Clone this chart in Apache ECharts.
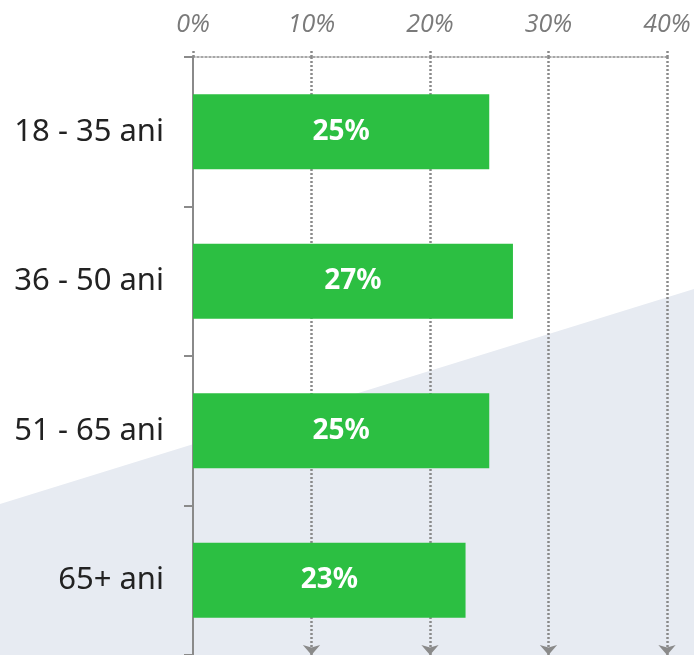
<!DOCTYPE html>
<html>
<head>
<meta charset="utf-8">
<script src="https://cdn.jsdelivr.net/npm/echarts@6/dist/echarts.min.js"></script>
<style>
html, body { margin: 0; padding: 0; background: #fff; }
#chart { width: 694px; height: 655px; }
</style>
</head>
<body>
<div id="chart"></div>
<script>
const categories = ['18 - 35 ani', '36 - 50 ani', '51 - 65 ani', '65+ ani'];
const values = [25, 27, 25, 23];
const gridTicks = [10, 20, 30, 40];

const chart = echarts.init(document.getElementById('chart'));
const option = {
    backgroundColor: '#fff',
    animation: false,
    graphic: [{
        type: 'polygon',
        z: -100,
        silent: true,
        shape: { points: [[0, 504], [694, 289], [694, 655], [0, 655]] },
        style: { fill: '#e7ebf2' }
    }],
    grid: { left: 193, top: 57, width: 474, height: 600 },
    xAxis: {
        type: 'value',
        position: 'top',
        min: 0,
        max: 40,
        interval: 10,
        axisLine: { show: true, lineStyle: { color: '#8a8a8a', width: 1.5, type: [2, 2] } },
        axisTick: { show: true, length: 7, lineStyle: { color: '#8a8a8a', width: 2.5, type: [2, 2] } },
        splitLine: { show: false },
        axisLabel: {
            formatter: '{value}%',
            color: '#7a7a7a',
            fontStyle: 'italic',
            fontSize: 25,
            fontFamily: 'Open Sans',
            margin: 20
        }
    },
    yAxis: {
        type: 'category',
        inverse: true,
        data: categories,
        axisLine: { show: true, lineStyle: { color: '#8a8a8a', width: 2 } },
        axisTick: { show: true, length: 9, lineStyle: { color: '#8a8a8a', width: 2 } },
        axisLabel: { color: '#222', fontSize: 31, fontFamily: 'Noto Sans', margin: 29 }
    },
    series: [{
        type: 'bar',
        data: values,
        barWidth: 75,
        z: 2,
        itemStyle: { color: '#2cbf42' },
        label: {
            show: true,
            position: 'inside',
            formatter: '{c}%',
            color: '#fff',
            fontWeight: 'bold',
            fontSize: 28,
            fontFamily: 'Noto Sans'
        },
        markLine: {
            silent: true,
            z: 1,
            symbol: ['none', 'arrow'],
            symbolSize: [13, 10],
            label: { show: false },
            lineStyle: { color: '#8a8a8a', width: 2.5, type: [2, 2] },
            data: gridTicks.map(v => ({ xAxis: v }))
        }
    }]
};
chart.setOption(option);
</script>
</body>
</html>
